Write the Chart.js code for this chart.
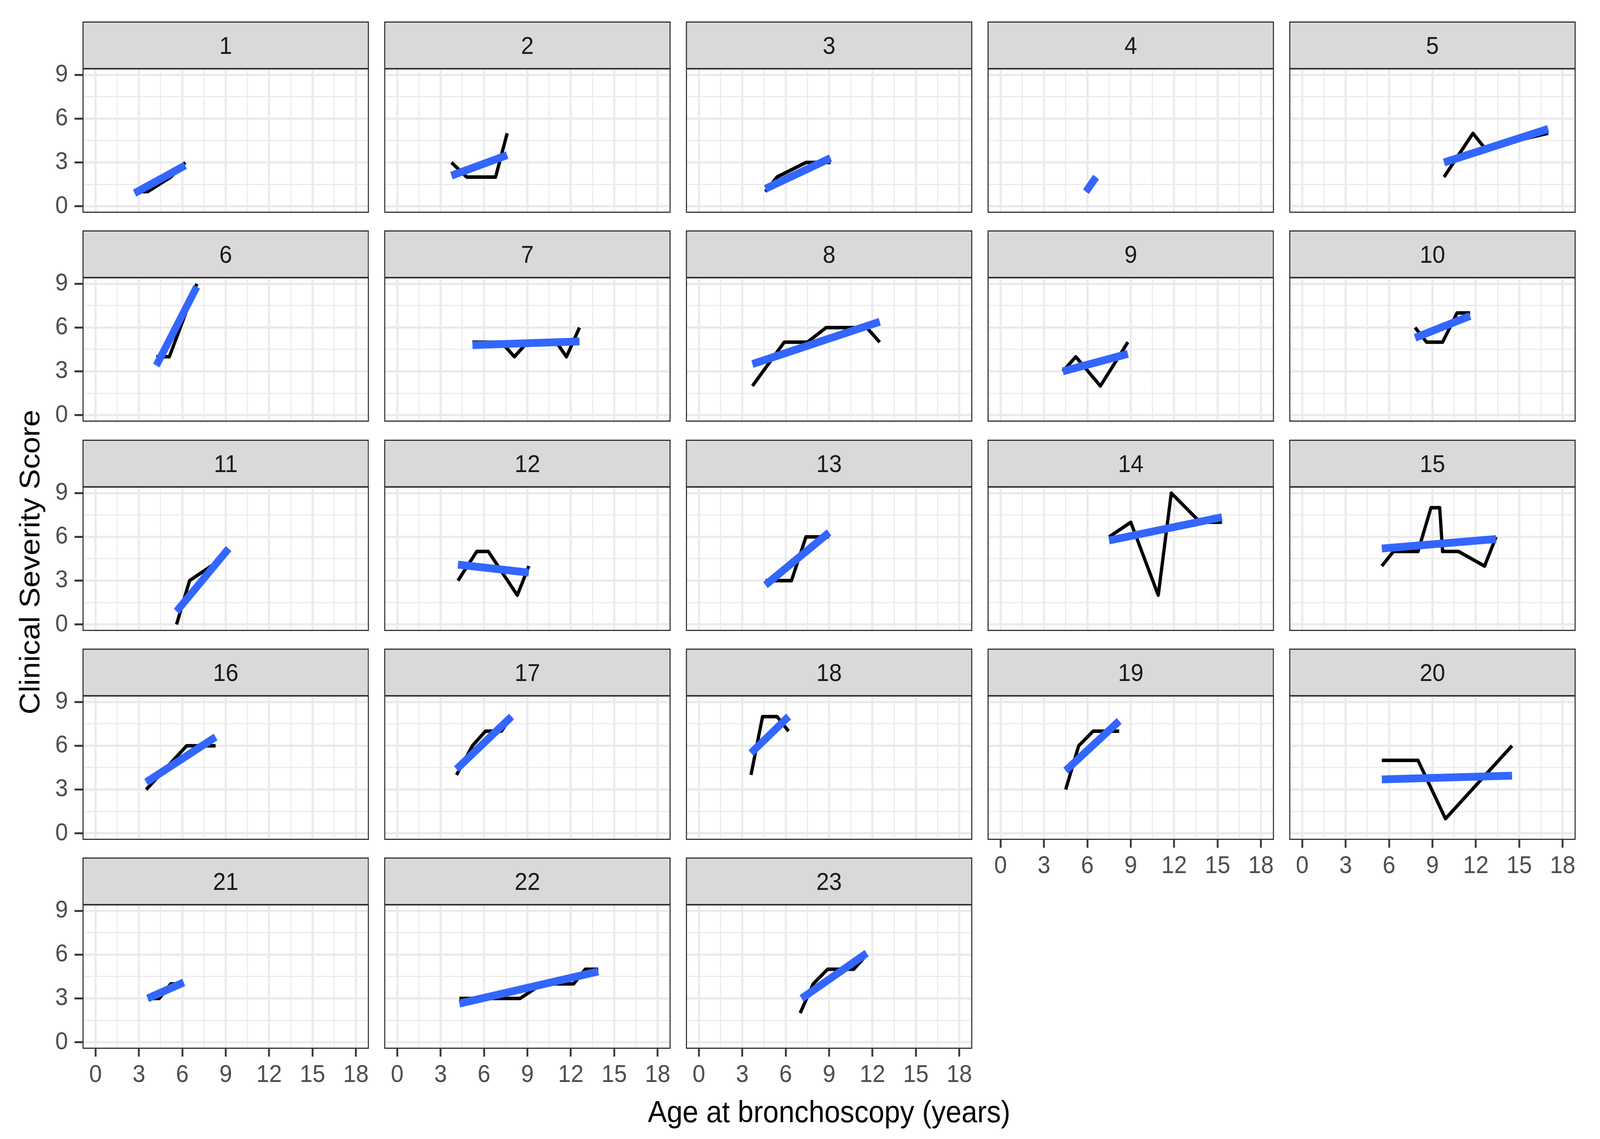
<!DOCTYPE html>
<html>
<head>
<meta charset="utf-8">
<script src="https://cdn.jsdelivr.net/npm/chart.js@4.4.1/dist/chart.umd.min.js"></script>
<style>
  html, body { margin: 0; padding: 0; background: #fff; overflow: hidden; }
  body { font-family: "Liberation Sans", Arial, sans-serif; }
  #stage { position: absolute; left: 0; top: 0; width: 4402px; height: 2917px; transform-origin: 0 0; background: #fff; }
  .strip { position: absolute; box-sizing: border-box; background: #d9d9d9; border: 3px solid #333;
           display: flex; align-items: center; justify-content: center; font-size: 63px; color: #1a1a1a; }
  canvas.panel { position: absolute; }
  .title { position: absolute; font-size: 78px; color: #000; white-space: nowrap; }
</style>
</head>
<body>
<div id="stage">
  <div class="title" id="xTitle">Age at bronchoscopy (years)</div>
  <div class="title" id="yTitle">Clinical Severity Score</div>
</div>
<script>
// facet labels
const subjects = ["1","2","3","4","5","6","7","8","9","10","11","12","13","14","15","16","17","18","19","20","21","22","23"];

// observed age (years) and severity score per subject
const ages = [
  [2.7, 3.6, 5.2, 6.2],
  [3.75, 4.8, 6.8, 7.6],
  [4.6, 5.4, 7.4, 9.1],
  [5.9, 6.6],
  [9.8, 11.8, 12.6, 17.0],
  [4.2, 5.1, 7.0],
  [5.2, 7.2, 8.1, 9.0, 11.0, 11.7, 12.6],
  [3.7, 5.9, 7.5, 8.8, 11.6, 12.5],
  [4.3, 5.2, 6.9, 8.8],
  [7.8, 8.6, 9.7, 10.7, 11.6],
  [5.6, 6.5, 8.0, 9.2],
  [4.2, 5.5, 6.3, 8.3, 9.1],
  [4.6, 6.4, 7.4, 9.0],
  [7.5, 9.0, 10.9, 11.8, 13.8, 15.3],
  [5.5, 6.3, 8.0, 8.9, 9.5, 9.7, 10.8, 12.6, 13.4],
  [3.5, 6.3, 8.3],
  [4.1, 5.2, 6.1, 7.2, 7.9],
  [3.6, 4.4, 5.4, 6.2],
  [4.5, 5.4, 6.4, 8.2],
  [5.5, 8.0, 9.9, 14.5],
  [3.7, 4.4, 5.2, 6.1],
  [4.3, 8.5, 10.0, 12.2, 13.0, 13.9],
  [7.0, 7.9, 8.9, 10.7, 11.6]
];
const scores = [
  [1, 1, 2, 3],
  [3, 2, 2, 5],
  [1, 2, 3, 3],
  [1, 2],
  [2, 5, 4, 5],
  [4, 4, 9],
  [5, 5, 4, 5, 5, 4, 6],
  [2, 5, 5, 6, 6, 5],
  [3, 4, 2, 5],
  [6, 5, 5, 7, 7],
  [0, 3, 4, 5],
  [3, 5, 5, 2, 4],
  [3, 3, 6, 6],
  [6, 7, 2, 9, 7, 7],
  [4, 5, 5, 8, 8, 5, 5, 4, 6],
  [3, 6, 6],
  [4, 6, 7, 7, 8],
  [4, 8, 8, 7],
  [3, 6, 7, 7],
  [5, 5, 1, 6],
  [3, 3, 4, 4],
  [3, 3, 4, 4, 5, 5],
  [2, 4, 5, 5, 6]
];

// linear fit (geom_smooth lm) end points
const fitAges = [
  [2.7, 6.2], [3.75, 7.6], [4.6, 9.1], [5.9, 6.6], [9.8, 17.0],
  [4.2, 7.0], [5.2, 12.6], [3.7, 12.5], [4.3, 8.8], [7.8, 11.6],
  [5.6, 9.2], [4.2, 9.1], [4.6, 9.0], [7.5, 15.3], [5.5, 13.4],
  [3.5, 8.3], [4.1, 7.9], [3.6, 6.2], [4.5, 8.2], [5.5, 14.5],
  [3.6, 6.1], [4.3, 13.9], [7.1, 11.6]
];
const fitScores = [
  [0.9, 2.8], [2.1, 3.5], [1.2, 3.3], [1, 2], [3.0, 5.3],
  [3.4, 8.8], [4.8, 5.05], [3.5, 6.4], [3.0, 4.2], [5.3, 6.8],
  [0.9, 5.2], [4.1, 3.55], [2.7, 6.3], [5.75, 7.35], [5.2, 5.85],
  [3.5, 6.6], [4.4, 8.0], [5.5, 8.0], [4.3, 7.7], [3.7, 3.95],
  [3.0, 4.1], [2.65, 4.85], [3.0, 6.1]
];

// grid breaks (majors every 3, minors between)
const xBreaks = [0, 1.5, 3, 4.5, 6, 7.5, 9, 10.5, 12, 13.5, 15, 16.5, 18];
const yBreaks = [0, 1.5, 3, 4.5, 6, 7.5, 9];

// layout (px, in the 4402x2917 frame)
const NCOL = 5;
const PLOT_W = 788, PLOT_H = 370, STRIP_H = 122;
const COL_X0 = 227, COL_STEP = 830;
const ROW_Y0 = 175, ROW_STEP = 535.3;
const LEFT_ZONE = 200, BOTTOM_ZONE = 120, TOP_ZONE = 40;

// stretch the 4402x2917 frame over the whole viewport
const stage = document.getElementById("stage");
const vw = window.innerWidth, vh = window.innerHeight;
stage.style.transform = `scale(${vw / 4402}, ${vh / 2917})`;
document.body.style.width = vw + "px";
document.body.style.height = vh + "px";

Chart.defaults.font.family = '"Liberation Sans", Arial, sans-serif';

const isMajor = v => Math.abs(v % 3) < 1e-6;

const frame = {
  id: "frame",
  afterDraw(chart) {
    const a = chart.chartArea, ctx = chart.ctx;
    ctx.save();
    ctx.strokeStyle = "#333333";
    ctx.lineWidth = 3;
    ctx.strokeRect(a.left + 1.5, a.top + 1.5, a.right - a.left - 3, a.bottom - a.top - 3);
    ctx.restore();
  }
};

function noPad(s) {
  s.paddingTop = 0; s.paddingBottom = 0; s.paddingLeft = 0; s.paddingRight = 0;
}

subjects.forEach((label, i) => {
  const col = i % NCOL, row = Math.floor(i / NCOL);
  const left = COL_X0 + col * COL_STEP;
  const top = ROW_Y0 + row * ROW_STEP;
  const showY = col === 0;
  const showX = i >= subjects.length - NCOL;

  const strip = document.createElement("div");
  strip.className = "strip";
  strip.textContent = label;
  Object.assign(strip.style, { left: left + "px", top: (top - STRIP_H + 2) + "px", width: PLOT_W + "px", height: STRIP_H + "px" });
  stage.appendChild(strip);

  const cv = document.createElement("canvas");
  cv.className = "panel";
  cv.width = PLOT_W + LEFT_ZONE;
  cv.height = PLOT_H + BOTTOM_ZONE + TOP_ZONE;
  Object.assign(cv.style, { left: (left - LEFT_ZONE) + "px", top: (top - TOP_ZONE) + "px" });
  stage.appendChild(cv);

  new Chart(cv, {
    type: "line",
    data: {
      datasets: [
        {
          data: fitAges[i].map((x, k) => ({ x, y: fitScores[i][k] })),
          borderColor: "#3366ff", borderWidth: 20, borderCapStyle: "butt",
          pointRadius: 0, order: 0
        },
        {
          data: ages[i].map((x, k) => ({ x, y: scores[i][k] })),
          borderColor: "#000000", borderWidth: 9, borderJoinStyle: "round",
          pointRadius: 0, tension: 0, order: 1
        }
      ]
    },
    options: {
      responsive: false, animation: false, devicePixelRatio: 1,
      layout: { padding: { top: TOP_ZONE, left: 0, right: 0, bottom: 0 }, autoPadding: false },
      plugins: { legend: { display: false }, tooltip: { enabled: false } },
      scales: {
        x: {
          type: "linear", min: -0.9, max: 18.9,
          afterBuildTicks: s => { s.ticks = xBreaks.map(v => ({ value: v })); },
          afterFit: s => { s.height = BOTTOM_ZONE; noPad(s); },
          border: { display: false },
          grid: {
            color: "#ebebeb",
            lineWidth: c => isMajor(c.tick.value) ? 6 : 3,
            drawTicks: showX, tickLength: 20, tickWidth: 5,
            tickColor: c => isMajor(c.tick.value) ? "#333333" : "rgba(0,0,0,0)"
          },
          ticks: {
            display: showX, autoSkip: false, maxRotation: 0, padding: 10,
            color: "#4d4d4d", font: { size: 63 },
            callback: v => isMajor(v) ? String(v) : ""
          }
        },
        y: {
          type: "linear", min: -0.45, max: 9.45,
          afterBuildTicks: s => { s.ticks = yBreaks.map(v => ({ value: v })); },
          afterFit: s => { s.width = LEFT_ZONE; noPad(s); },
          border: { display: false },
          grid: {
            color: "#ebebeb",
            lineWidth: c => isMajor(c.tick.value) ? 6 : 3,
            drawTicks: showY, tickLength: 22, tickWidth: 5,
            tickColor: c => isMajor(c.tick.value) ? "#333333" : "rgba(0,0,0,0)"
          },
          ticks: {
            display: showY, autoSkip: false, padding: 18,
            color: "#4d4d4d", font: { size: 63 },
            callback: v => isMajor(v) ? String(v) : ""
          }
        }
      }
    },
    plugins: [frame]
  });
});

// axis titles
const xt = document.getElementById("xTitle");
xt.style.left = (2281 - xt.offsetWidth / 2) + "px";
xt.style.top = (2847 - xt.offsetHeight / 2) + "px";
const yt = document.getElementById("yTitle");
yt.style.left = (82 - yt.offsetWidth / 2) + "px";
yt.style.top = (1439 - yt.offsetHeight / 2) + "px";
yt.style.transform = "rotate(-90deg)";
</script>
</body>
</html>
